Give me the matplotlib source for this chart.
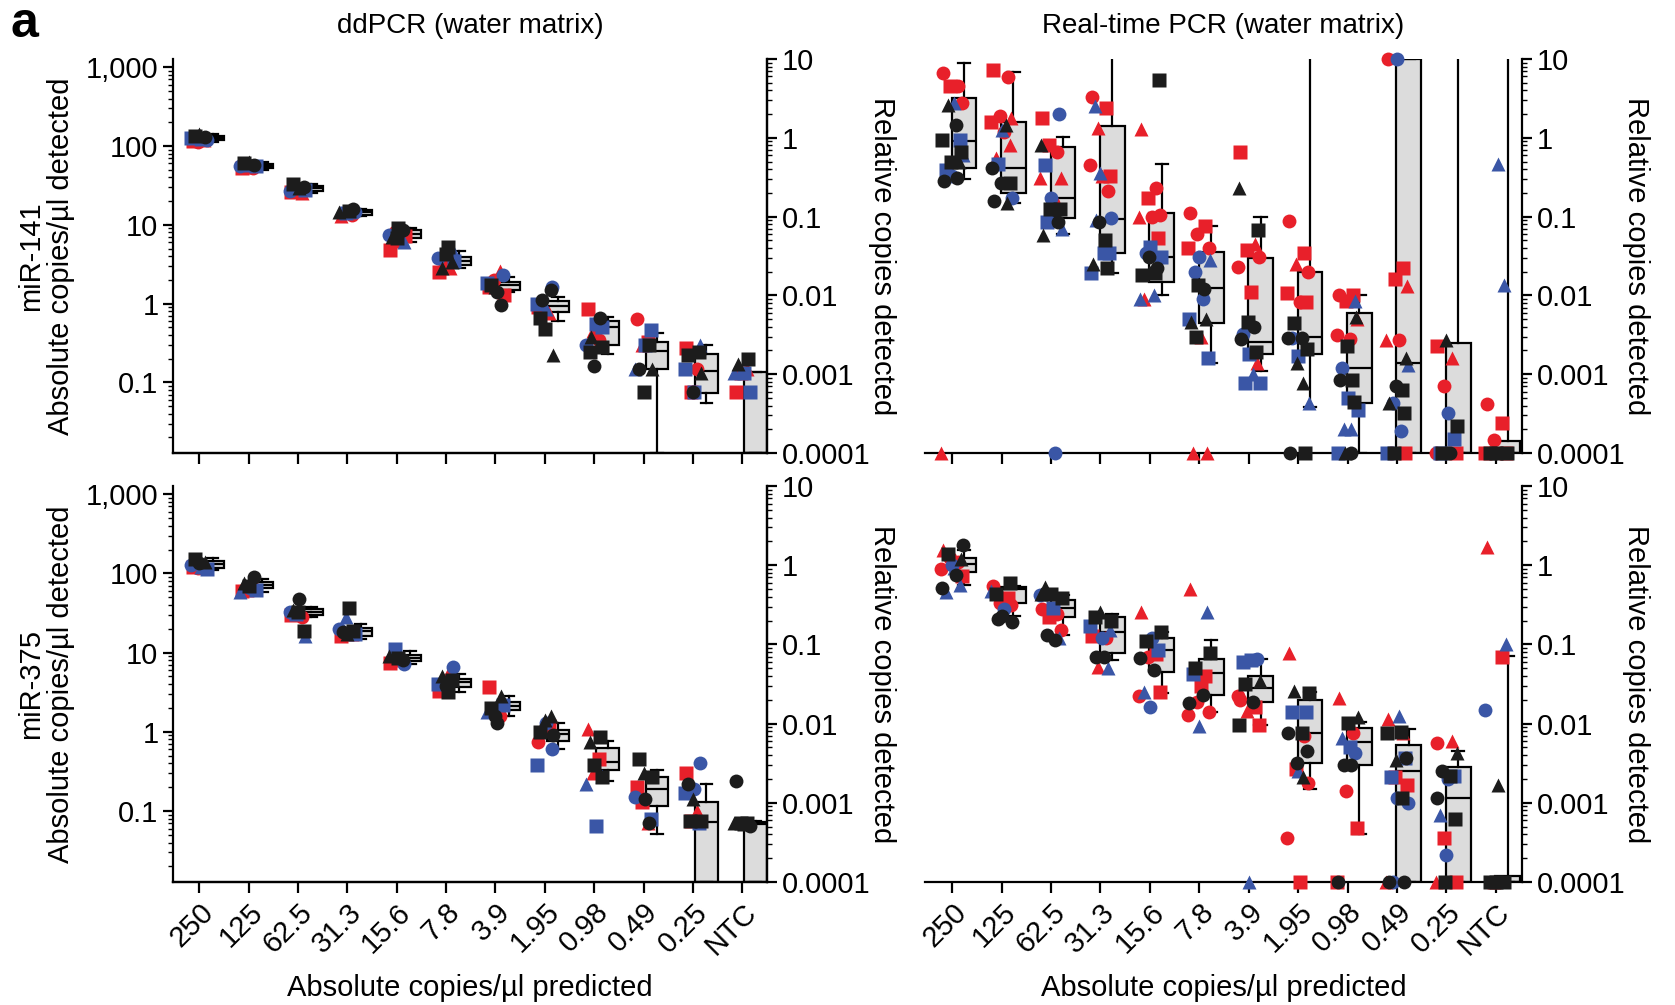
import numpy as np
import matplotlib
matplotlib.use("Agg")
import matplotlib.pyplot as plt
from matplotlib.ticker import LogLocator, NullFormatter

plt.rcParams['font.family'] = ['Liberation Sans', 'DejaVu Sans']

#data--------------------------------------------------------------------------
#x categories, predicted copies/ul
conc = ["250", "125", "62.5", "31.3", "15.6", "7.8", "3.9", "1.95", "0.98",
        "0.49", "0.25", "NTC"]

#points: (colour+marker, value); r/b/k = red/blue/black, c/s/t = circle/square/triangle
#0 means nothing detected, drawn on the axis floor
ddpcr_141 = [
    [("rs", 115), ("rt", 118), ("rc", 112), ("bc", 120), ("bs", 125), ("bt", 122), ("kc", 130), ("ks", 135), ("kt", 142)],
    [("rs", 52), ("rc", 53), ("rt", 54), ("bs", 55), ("bc", 56), ("bt", 57), ("kc", 58), ("ks", 60), ("kt", 63)],
    [("rs", 26), ("rt", 25), ("rc", 28), ("bs", 28), ("bc", 27), ("kt", 29), ("kc", 30), ("ks", 33)],
    [("rt", 13), ("rc", 13.5), ("bs", 14), ("bc", 14.5), ("kt", 14.5), ("ks", 15), ("kc", 16)],
    [("rs", 4.8), ("rt", 6.2), ("rc", 8.0), ("bt", 6.0), ("bc", 7.5), ("ks", 9.1), ("kc", 8.5), ("kt", 7.0), ("ks", 6.8), ("rs", 7.2)],
    [("rs", 2.5), ("rt", 2.8), ("rc", 3.2), ("bt", 4.6), ("bc", 3.8), ("ks", 5.3), ("kt", 3.4), ("kt", 2.8), ("ks", 4.2), ("bs", 3.5)],
    [("rs", 1.6), ("rt", 2.6), ("rc", 2.0), ("bc", 2.3), ("bs", 1.8), ("kc", 1.4), ("kc", 0.95), ("ks", 1.7), ("kt", 1.6), ("rs", 1.3)],
    [("rs", 0.9), ("rt", 0.75), ("rc", 0.8), ("bc", 1.6), ("bs", 1.0), ("bt", 0.85), ("kc", 1.5), ("ks", 0.65), ("ks", 0.48), ("kt", 0.22), ("kc", 1.1)],
    [("rs", 0.85), ("rc", 0.35), ("rt", 0.45), ("bs", 0.5), ("bc", 0.3), ("bs", 0.55), ("kc", 0.65), ("ks", 0.24), ("kc", 0.16), ("ks", 0.28), ("kt", 0.38)],
    [("rc", 0.64), ("rs", 0.33), ("rt", 0.3), ("bs", 0.46), ("bt", 0.15), ("bs", 0.3), ("ks", 0.3), ("kc", 0.15), ("ks", 0.075), ("kt", 0.15)],
    [("rs", 0.27), ("rc", 0.15), ("rs", 0.075), ("bt", 0.3), ("bs", 0.15), ("bs", 0.075), ("ks", 0.24), ("ks", 0.22), ("kc", 0.075), ("kt", 0.13)],
    [("rs", 0.075), ("rt", 0.15), ("rs", 0.13), ("bs", 0.075), ("bt", 0.13), ("bs", 0.13), ("ks", 0.2), ("kt", 0.17)],
]
ddpcr_141_q1 = [118, 53, 27, 13.5, 6.8, 3.1, 1.5, 0.79, 0.30, 0.147, 0.074, 0]
ddpcr_141_med = [125, 56, 29, 14.5, 7.7, 3.5, 1.7, 0.92, 0.5, 0.25, 0.14, 0]
ddpcr_141_q3 = [132, 59, 31, 15.2, 8.6, 3.9, 1.9, 1.09, 0.6, 0.33, 0.23, 0.135]
ddpcr_141_lo = [112, 50, 25, 13, 6.0, 2.8, 1.4, 0.6, 0.23, 0, 0.055, 0]
ddpcr_141_hi = [140, 63, 33, 16, 9.0, 4.6, 2.2, 1.2, 0.68, 0.42, 0.3, 0.135]

ddpcr_375 = [
    [("rs", 120), ("rt", 125), ("rc", 118), ("bs", 115), ("bc", 128), ("bt", 122), ("kt", 140), ("ks", 150), ("kc", 135)],
    [("rs", 60), ("rc", 65), ("rt", 62), ("bs", 62), ("bt", 58), ("bc", 66), ("kc", 90), ("kt", 75), ("ks", 70)],
    [("rs", 30), ("rc", 28), ("bs", 31), ("bt", 16), ("bc", 33), ("kc", 48), ("ks", 19), ("kt", 35), ("ks", 33)],
    [("rs", 16), ("rt", 17), ("bt", 28), ("bs", 17), ("bc", 20), ("ks", 37), ("ks", 19), ("kc", 18), ("kt", 17)],
    [("rs", 7.5), ("rt", 8), ("bs", 11), ("bc", 7.2), ("kt", 9), ("ks", 8.5), ("kc", 8)],
    [("rs", 3.3), ("rt", 6), ("rc", 3.5), ("bc", 6.5), ("bs", 4), ("ks", 3.2), ("ks", 4.5), ("kt", 5), ("kc", 3.8)],
    [("rs", 3.7), ("rc", 1.6), ("rt", 1.9), ("bs", 2.2), ("bt", 1.8), ("kc", 1.3), ("kt", 2.8), ("ks", 2.0), ("kc", 1.6)],
    [("rc", 0.75), ("rs", 1.2), ("rt", 1.1), ("bc", 0.6), ("bs", 0.38), ("bc", 1.3), ("kt", 1.6), ("ks", 1.0), ("kt", 1.4), ("kc", 0.9)],
    [("rt", 1.1), ("rs", 0.45), ("rt", 0.3), ("bt", 0.28), ("bt", 0.22), ("bs", 0.065), ("ks", 0.85), ("kt", 0.75), ("ks", 0.38), ("ks", 0.27)],
    [("rs", 0.2), ("rt", 0.07), ("rs", 0.13), ("bs", 0.08), ("bc", 0.15), ("kc", 0.14), ("kc", 0.07), ("ks", 0.45), ("kt", 0.3), ("ks", 0.27)],
    [("rs", 0.3), ("rt", 0.1), ("rs", 0.075), ("bc", 0.4), ("bs", 0.17), ("bc", 0.19), ("bs", 0.07), ("kc", 0.22), ("kt", 0.14), ("ks", 0.075), ("ks", 0.075)],
    [("kc", 0.24), ("ks", 0.07), ("ks", 0.07), ("kc", 0.065), ("kt", 0.07), ("ks", 0.068)],
]
ddpcr_375_q1 = [118, 65, 30, 16, 7.8, 3.7, 1.9, 0.77, 0.33, 0.117, 0, 0]
ddpcr_375_med = [130, 72, 33, 18.5, 8.5, 4.2, 2.1, 0.95, 0.41, 0.19, 0.072, 0.068]
ddpcr_375_q3 = [145, 78, 36, 20.5, 9.2, 4.7, 2.4, 1.06, 0.62, 0.27, 0.13, 0.072]
ddpcr_375_lo = [110, 58, 28, 15, 7.2, 3.2, 1.6, 0.6, 0.24, 0.052, 0, 0]
ddpcr_375_hi = [155, 85, 38, 23, 10.5, 5.3, 2.8, 1.3, 0.76, 0.33, 0.22, 0.075]

rtpcr_141 = [
    [("rc", 6.6), ("rc", 4.6), ("rs", 4.6), ("rc", 2.8), ("rt", 0), ("bt", 2.8), ("bs", 0.93), ("bs", 0.39), ("bc", 0.33), ("bt", 0.6), ("kt", 2.6), ("kc", 1.45), ("ks", 0.93), ("ks", 0.66), ("ks", 0.49), ("kc", 0.31), ("kc", 0.28), ("kt", 0.49)],
    [("rs", 7.2), ("rc", 5.9), ("rc", 1.9), ("rt", 1.8), ("rs", 1.6), ("rc", 1.2), ("rt", 0.81), ("rt", 0.55), ("bt", 1.25), ("bc", 0.17), ("bs", 0.47), ("kt", 1.45), ("kc", 0.41), ("ks", 0.27), ("kc", 0.27), ("kt", 0.15), ("kc", 0.16)],
    [("rs", 1.8), ("rc", 0.66), ("rs", 0.8), ("rt", 0.31), ("rt", 0.31), ("rc", 0.15), ("bc", 2.0), ("bs", 0.45), ("bc", 0.17), ("bt", 0.07), ("bs", 0.085), ("bc", 0), ("kt", 0.82), ("ks", 0.125), ("ks", 0.125), ("kc", 0.12), ("kt", 0.058), ("kc", 0.085)],
    [("rc", 3.3), ("rs", 2.4), ("rt", 1.35), ("rs", 0.33), ("rc", 0.45), ("rt", 0.33), ("rc", 0.21), ("bt", 2.5), ("bt", 0.36), ("bc", 0.095), ("bt", 0.09), ("bs", 0.035), ("bs", 0.019), ("bs", 0.035), ("kc", 0.085), ("ks", 0.05), ("kt", 0.025), ("ks", 0.022)],
    [("rt", 1.3), ("rc", 0.23), ("rs", 0.17), ("rc", 0.104), ("rt", 0.1), ("rc", 0.1), ("rs", 0.054), ("rt", 0.009), ("bs", 0.041), ("bs", 0.031), ("bc", 0.035), ("bt", 0.01), ("bt", 0.009), ("ks", 5.4), ("kc", 0.031), ("ks", 0.019), ("ks", 0.018), ("kc", 0.022)],
    [("rc", 0.11), ("rs", 0.077), ("rc", 0.06), ("rc", 0.04), ("rs", 0.04), ("rt", 0.003), ("rt", 0), ("rt", 0), ("bc", 0.031), ("bt", 0.028), ("bc", 0.02), ("bc", 0.009), ("bs", 0.005), ("bs", 0.0016), ("ks", 0.0135), ("kc", 0.012), ("kt", 0.0046), ("kt", 0.005), ("ks", 0.003)],
    [("rs", 0.66), ("rt", 0.045), ("rs", 0.038), ("rc", 0.031), ("rc", 0.023), ("rs", 0.011), ("rt", 0.0014), ("bc", 0.0032), ("bs", 0.0018), ("bs", 0.00078), ("bs", 0.00078), ("bt", 0.001), ("kt", 0.23), ("ks", 0.067), ("ks", 0.0046), ("kc", 0.004), ("kc", 0.0028), ("ks", 0.0019)],
    [("rc", 0.087), ("rs", 0.035), ("rt", 0.025), ("rc", 0.02), ("rs", 0.0107), ("rc", 0.0083), ("rs", 0.0083), ("bc", 0.0029), ("bs", 0.0017), ("bt", 0.00043), ("ks", 0.0044), ("kc", 0.0029), ("kc", 0.0029), ("ks", 0.0021), ("kt", 0.0014), ("kt", 0.00078), ("kc", 0), ("ks", 0)],
    [("rc", 0.01), ("rs", 0.01), ("rs", 0.0085), ("rt", 0.005), ("rc", 0.0031), ("rc", 0.0028), ("bt", 0.0085), ("bc", 0.0012), ("bs", 0.0005), ("bs", 0.00035), ("bt", 0.0002), ("bt", 0.0002), ("bs", 0), ("kt", 0.0053), ("ks", 0.0023), ("ks", 0.00085), ("kc", 0.00085), ("ks", 0.00045), ("kt", 0), ("kc", 0)],
    [("rc", 10), ("rs", 0.022), ("rs", 0.016), ("rt", 0.013), ("rt", 0.0027), ("rc", 0.0027), ("rs", 0), ("rc", 0), ("bc", 10), ("bt", 0.0013), ("bc", 0.00043), ("bc", 0.00019), ("bs", 0), ("kt", 0.0016), ("kc", 0.0007), ("ks", 0.00063), ("kt", 0.00043), ("ks", 0.00032), ("ks", 0)],
    [("rs", 0.0023), ("rt", 0.0016), ("rc", 0.0007), ("rs", 0), ("rc", 0), ("bc", 0.00032), ("bs", 0.00015), ("bs", 0), ("kt", 0.0027), ("ks", 0.00022), ("ks", 0), ("kc", 0)],
    [("rc", 0.00042), ("rs", 0.00024), ("rc", 0.000145), ("rs", 0), ("rs", 0), ("bt", 0.47), ("bt", 0.0135), ("ks", 0), ("ks", 0), ("ks", 0)],
]
rtpcr_141_q1 = [0.41, 0.2, 0.095, 0.035, 0.015, 0.0045, 0.0018, 0.0018, 0.00043, 0, 0, 0]
rtpcr_141_med = [0.91, 0.41, 0.17, 0.094, 0.031, 0.0123, 0.0026, 0.003, 0.0012, 0.0014, 0, 0]
rtpcr_141_q3 = [3.2, 1.6, 0.76, 1.4, 0.11, 0.036, 0.03, 0.02, 0.006, 10, 0.0025, 0.00014]
rtpcr_141_lo = [0.3, 0.15, 0.06, 0.019, 0.01, 0.0014, 0.0011, 0.00038, 0, 0, 0, 0]
rtpcr_141_hi = [8.8, 6.8, 1.02, 100, 0.47, 0.077, 0.1, 100, 0.01, 10, 100, 100]

rtpcr_375 = [
    [("rt", 1.55), ("rc", 1.1), ("rc", 1.25), ("rs", 0.74), ("rc", 0.9), ("bt", 0.93), ("bt", 0.56), ("bt", 0.46), ("bc", 1.0), ("kc", 1.8), ("ks", 1.4), ("kc", 0.76), ("kc", 0.51), ("kt", 1.2)],
    [("rc", 0.55), ("rs", 0.39), ("rc", 0.33), ("rc", 0.31), ("bt", 0.47), ("bc", 0.28), ("ks", 0.59), ("ks", 0.43), ("kc", 0.23), ("kc", 0.19), ("kc", 0.21)],
    [("rc", 0.28), ("rc", 0.24), ("rs", 0.22), ("rc", 0.15), ("bc", 0.42), ("bs", 0.29), ("bt", 0.12), ("kt", 0.53), ("ks", 0.43), ("ks", 0.38), ("kc", 0.13), ("kc", 0.115), ("kt", 0.43)],
    [("rs", 0.126), ("rc", 0.12), ("rt", 0.052), ("bt", 0.15), ("bs", 0.17), ("bc", 0.12), ("bt", 0.05), ("ks", 0.22), ("kt", 0.26), ("ks", 0.2), ("kc", 0.07), ("kc", 0.07)],
    [("rt", 0.26), ("rs", 0.075), ("rc", 0.07), ("rs", 0.025), ("rc", 0.022), ("bc", 0.12), ("bs", 0.085), ("bt", 0.025), ("bc", 0.016), ("ks", 0.145), ("ks", 0.11), ("kc", 0.048), ("kc", 0.068)],
    [("rt", 0.5), ("rs", 0.04), ("rc", 0.019), ("rc", 0.014), ("rc", 0.013), ("rs", 0.03), ("bt", 0.26), ("bs", 0.042), ("bt", 0.0092), ("ks", 0.079), ("ks", 0.05), ("kc", 0.023), ("kc", 0.018)],
    [("rc", 0.02), ("rs", 0.016), ("rt", 0.0145), ("rs", 0.0095), ("rc", 0.022), ("bs", 0.063), ("bc", 0.065), ("bs", 0.06), ("bt", 0), ("kt", 0.035), ("ks", 0.032), ("kc", 0.019), ("ks", 0.0097)],
    [("rt", 0.078), ("rc", 0.007), ("rs", 0.0027), ("rc", 0.0018), ("rc", 0.00036), ("rs", 0), ("bs", 0.014), ("bs", 0.014), ("bt", 0.0025), ("ks", 0.024), ("kt", 0.026), ("ks", 0.0076), ("kc", 0.0076), ("kc", 0.0045), ("kc", 0.0032), ("kt", 0.0021)],
    [("rt", 0.021), ("rc", 0.0075), ("rc", 0.0014), ("rs", 0.00048), ("rs", 0), ("bs", 0.005), ("bc", 0.0042), ("bt", 0.0065), ("ks", 0.0102), ("kt", 0.012), ("kc", 0.003), ("kc", 0.003), ("kc", 0)],
    [("rt", 0.0115), ("rt", 0.0075), ("rs", 0.0021), ("rs", 0.0017), ("rt", 0), ("bt", 0.0123), ("bs", 0.0037), ("bs", 0.0021), ("bc", 0.00115), ("bc", 0.001), ("bc", 0), ("ks", 0.0079), ("ks", 0.0076), ("kc", 0.0037), ("kt", 0.0035), ("ks", 0.00115), ("kc", 0), ("kc", 0)],
    [("rc", 0.0057), ("rt", 0.006), ("rs", 0.00036), ("rs", 0), ("rt", 0), ("bc", 0.002), ("bs", 0.0022), ("bt", 0.0007), ("bc", 0.00022), ("kt", 0.0043), ("kc", 0.0025), ("ks", 0.0022), ("kc", 0.00115), ("ks", 0.00062), ("ks", 0)],
    [("rt", 1.7), ("rs", 0.07), ("rt", 0), ("bt", 0.1), ("bc", 0.0148), ("kt", 0.0017), ("ks", 0), ("ks", 0), ("ks", 0)],
]
rtpcr_375_q1 = [0.83, 0.33, 0.22, 0.079, 0.045, 0.023, 0.019, 0.0032, 0.003, 0, 0, 0]
rtpcr_375_med = [1.05, 0.5, 0.29, 0.145, 0.085, 0.044, 0.028, 0.0077, 0.0058, 0.0025, 0.00115, 0]
rtpcr_375_q3 = [1.23, 0.53, 0.36, 0.22, 0.12, 0.066, 0.04, 0.02, 0.0089, 0.0054, 0.0028, 0.00012]
rtpcr_375_lo = [0.56, 0.23, 0.13, 0.064, 0.024, 0.014, 0.0097, 0.0015, 0.0004, 0, 0, 0]
rtpcr_375_hi = [1.55, 0.55, 0.42, 0.24, 0.145, 0.113, 0.065, 0.025, 0.0105, 0.0085, 0.0045, 0.072]

#styles------------------------------------------------------------------------
colours = {"r": "#e8202a", "b": "#3a56a6", "k": "#1c1c1c"}
markers = {"c": ("o", 10), "s": ("s", 10), "t": ("^", 9.5)}
jitter = [-0.18, 0.12, -0.04, 0.2, -0.22, 0.04, 0.16, -0.12, 0.0, 0.22,
          -0.08, 0.08, -0.2, 0.18, -0.02, 0.1, -0.16, 0.14, -0.06, 0.06]
FS = 21
LW = 1.6

abs_lim = (0.0127, 1270)
rel_lim = (1e-4, 10)


def draw_panel(ax, pts, q1, med, q3, lo, hi, floor, box_pos, box_w, spread):
    stats = []
    for i in range(len(conc)):
        stats.append(dict(q1=max(q1[i], floor), med=max(med[i], floor),
                          q3=max(q3[i], floor), whislo=max(lo[i], floor),
                          whishi=max(hi[i], floor), fliers=[]))
    ax.bxp(stats, positions=np.arange(len(conc)) + box_pos, widths=box_w,
           patch_artist=True, showfliers=False, manage_ticks=False, capwidths=box_w * 0.5,
           boxprops=dict(facecolor="#dcdcdc", edgecolor="k", linewidth=LW),
           medianprops=dict(color="k", linewidth=LW),
           whiskerprops=dict(color="k", linewidth=LW),
           capprops=dict(color="k", linewidth=LW), zorder=2)
    #red first, then blue, black on top
    for c in "rbk":
        for i, cat in enumerate(pts):
            for j, (code, v) in enumerate(cat):
                if code[0] != c:
                    continue
                m, ms = markers[code[1]]
                ax.plot(i + jitter[j % len(jitter)] * spread, max(v, floor), ls="none",
                        marker=m, ms=ms, color=colours[c], mec="none",
                        clip_on=False, zorder=3)


def log_axis(axis, ticks, labels):
    axis.set_major_locator(plt.FixedLocator(ticks))
    axis.set_ticklabels(labels)
    axis.set_minor_locator(LogLocator(base=10, subs=np.arange(2, 10), numticks=20))
    axis.set_minor_formatter(NullFormatter())


rel_ticks = [1e-4, 1e-3, 1e-2, 0.1, 1, 10]
rel_labels = ["0.0001", "0.001", "0.01", "0.1", "1", "10"]
abs_ticks = [0.1, 1, 10, 100, 1000]
abs_labels = ["0.1", "1", "10", "100", "1,000"]

#figure------------------------------------------------------------------------
fig = plt.figure(figsize=(16.75, 10.05), dpi=100)
W, H = 1675, 1005
rows = [(59, 453), (486, 882)]
left_x = (173, 767)
right_x = (925, 1522)

panels = [
    (0, "left", ddpcr_141, ddpcr_141_q1, ddpcr_141_med, ddpcr_141_q3, ddpcr_141_lo, ddpcr_141_hi, "miR-141"),
    (0, "right", rtpcr_141, rtpcr_141_q1, rtpcr_141_med, rtpcr_141_q3, rtpcr_141_lo, rtpcr_141_hi, None),
    (1, "left", ddpcr_375, ddpcr_375_q1, ddpcr_375_med, ddpcr_375_q3, ddpcr_375_lo, ddpcr_375_hi, "miR-375"),
    (1, "right", rtpcr_375, rtpcr_375_q1, rtpcr_375_med, rtpcr_375_q3, rtpcr_375_lo, rtpcr_375_hi, None),
]

for row, side, pts, q1, med, q3, lo, hi, mir in panels:
    top, bot = rows[row]
    x0, x1 = left_x if side == "left" else right_x
    ax = fig.add_axes([x0 / W, 1 - bot / H, (x1 - x0) / W, (bot - top) / H])
    ax.set_yscale("log")
    for s in ax.spines.values():
        s.set_linewidth(LW)
    ax.spines["top"].set_visible(False)
    ax.tick_params(which="major", length=7, width=LW, labelsize=FS, direction="out")
    ax.tick_params(which="minor", length=3.5, width=1.0, direction="out")
    ax.tick_params(axis="x", length=8)

    if side == "left":
        ax.set_xlim(-0.53, 11.5)
        ax.set_ylim(*abs_lim)
        draw_panel(ax, pts, q1, med, q3, lo, hi, abs_lim[0], 0.27, 0.46, 0.75)
        log_axis(ax.yaxis, abs_ticks, abs_labels)
        ax.set_ylabel(mir + "\nAbsolute copies/\u00b5l detected", fontsize=FS,
                      linespacing=1.1, ha="center", va="center")
        ax.yaxis.set_label_coords(-0.214, 0.5)
        ax2 = ax.twinx()
        ax2.set_yscale("log")
        ax2.set_ylim(*rel_lim)
        for s in ax2.spines.values():
            s.set_linewidth(LW)
        ax2.spines["top"].set_visible(False)
        ax2.spines["left"].set_visible(False)
        log_axis(ax2.yaxis, rel_ticks, rel_labels)
        ax2.tick_params(which="major", length=7, width=LW, labelsize=FS)
        ax2.tick_params(which="minor", length=3.5, width=1.0)
        ax2.set_ylabel("Relative copies detected", fontsize=FS, rotation=270,
                       ha="center", va="center")
        ax2.yaxis.set_label_coords(1.194, 0.5)
    else:
        ax.set_xlim(-0.55, 11.53)
        ax.set_ylim(*rel_lim)
        draw_panel(ax, pts, q1, med, q3, lo, hi, rel_lim[0], 0.24, 0.5, 1.0)
        ax.spines["left"].set_visible(False)
        ax.yaxis.tick_right()
        log_axis(ax.yaxis, rel_ticks, rel_labels)
        ax.set_ylabel("Relative copies detected", fontsize=FS, rotation=270,
                      ha="center", va="center")
        ax.yaxis.set_label_position("right")
        ax.yaxis.set_label_coords(1.214, 0.5)

    ax.set_xticks(np.arange(len(conc)))
    if row == 1:
        ax.set_xticklabels(conc, rotation=45, ha="right", va="top",
                           rotation_mode="anchor", fontsize=FS)
        ax.set_xlabel("Absolute copies/\u00b5l predicted", fontsize=FS, va="center")
        ax.xaxis.set_label_coords(0.5, -0.268)
    else:
        ax.set_xticklabels([])
        title = "ddPCR (water matrix)" if side == "left" else "Real-time PCR (water matrix)"
        ax.text(0.5, 1.085, title, transform=ax.transAxes, ha="center", va="center",
                fontsize=FS - 1)

fig.text(24 / W, 1 - 24 / H, "a", fontsize=36, fontweight="bold",
         ha="center", va="center")

fig.savefig("out.png", dpi=100)
